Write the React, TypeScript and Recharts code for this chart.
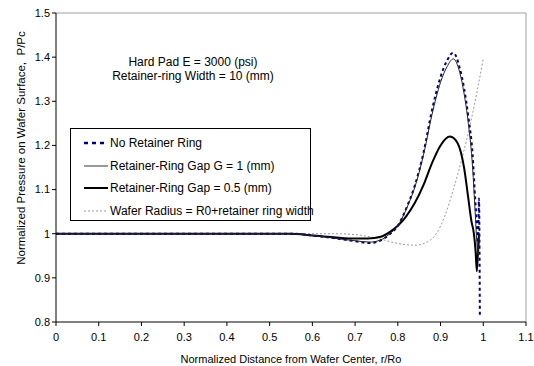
import React from 'react';
import { LineChart, Line, XAxis, YAxis, ReferenceLine, Legend } from 'recharts';

const xTicks = [0, 0.1, 0.2, 0.3, 0.4, 0.5, 0.6, 0.7, 0.8, 0.9, 1, 1.1];
const yTicks = [0.8, 0.9, 1, 1.1, 1.2, 1.3, 1.4, 1.5];

const seriesNames = [
  'No Retainer Ring',
  'Retainer-Ring Gap G = 1 (mm)',
  'Retainer-Ring Gap = 0.5 (mm)',
  'Wafer Radius = R0+retainer ring width',
];

const noRingX = [0, 0.55, 0.6, 0.65, 0.7, 0.735, 0.76, 0.78, 0.8, 0.82, 0.84, 0.86, 0.88, 0.9, 0.915, 0.93, 0.945, 0.955, 0.965, 0.975, 0.981, 0.985, 0.988, 0.99, 0.992];
const noRingY = [1, 1, 0.996, 0.99, 0.983, 0.979, 0.985, 0.998, 1.018, 1.058, 1.11, 1.183, 1.28, 1.355, 1.392, 1.41, 1.375, 1.33, 1.265, 1.18, 1.08, 1.02, 0.98, 1.08, 0.81];

const gap1X = [0, 0.55, 0.6, 0.65, 0.7, 0.735, 0.76, 0.78, 0.8, 0.82, 0.84, 0.86, 0.88, 0.9, 0.915, 0.93, 0.945, 0.955, 0.965, 0.975, 0.981, 0.985, 0.988, 0.991];
const gap1Y = [1, 1, 0.996, 0.99, 0.984, 0.981, 0.986, 0.999, 1.018, 1.056, 1.106, 1.178, 1.27, 1.343, 1.378, 1.396, 1.365, 1.318, 1.25, 1.15, 1.05, 0.98, 0.95, 1.0];

const gapHalfX = [0, 0.55, 0.6, 0.65, 0.7, 0.73, 0.76, 0.78, 0.8, 0.82, 0.84, 0.86, 0.88, 0.9, 0.922, 0.94, 0.955, 0.965, 0.972, 0.978, 0.982, 0.985, 0.988, 0.99];
const gapHalfY = [1, 1, 0.996, 0.992, 0.989, 0.989, 0.993, 1.003, 1.018, 1.04, 1.07, 1.11, 1.16, 1.2, 1.22, 1.205, 1.15, 1.08, 1.03, 1.0, 0.96, 0.915, 0.97, 1.0];

const wideX = [0, 0.55, 0.65, 0.7, 0.75, 0.8, 0.84, 0.87, 0.89, 0.91, 0.93, 0.95, 0.97, 0.985, 1.0];
const wideY = [1, 1, 1.0, 0.998, 0.99, 0.978, 0.974, 0.982, 1.0, 1.04, 1.1, 1.17, 1.25, 1.32, 1.396];

const toPoints = (xs: number[], ys: number[]) => xs.map((x, i) => ({ x, y: ys[i] }));

const noRing = toPoints(noRingX, noRingY);
const gap1 = toPoints(gap1X, gap1Y);
const gapHalf = toPoints(gapHalfX, gapHalfY);
const wide = toPoints(wideX, wideY);

const FONT = '"Liberation Sans", Arial, sans-serif';

const legendItems = [
  { name: seriesNames[0], stroke: '#000080', width: 2.5, dash: '4 4' },
  { name: seriesNames[1], stroke: '#333333', width: 1, dash: undefined },
  { name: seriesNames[2], stroke: '#000000', width: 2, dash: undefined },
  { name: seriesNames[3], stroke: '#999999', width: 1, dash: '2 2' },
];

const LegendBox = () => (
  <div
    style={{
      width: 241,
      height: 93,
      border: '1px solid #000',
      background: '#fff',
      fontFamily: FONT,
      fontSize: 12,
      color: '#000',
      boxSizing: 'border-box',
      paddingTop: 3,
      textAlign: 'left',
    }}
  >
    {legendItems.map((it) => (
      <div key={it.name} style={{ display: 'flex', alignItems: 'center', height: 22.5 }}>
        <svg width={39} height={10} style={{ flex: 'none' }}>
          <line x1={13} y1={5} x2={37} y2={5} stroke={it.stroke} strokeWidth={it.width} strokeDasharray={it.dash} />
        </svg>
        <span style={{ whiteSpace: 'nowrap' }}>{it.name}</span>
      </div>
    ))}
  </div>
);

export default function App() {
  return (
    <div style={{ position: 'absolute', left: 0, top: 0, width: 534, height: 366, background: '#fff' }}>
      <LineChart width={534} height={366} margin={{ top: 13, right: 8, bottom: 0, left: 0 }}>
        <XAxis
          dataKey="x"
          type="number"
          domain={[0, 1.1]}
          ticks={xTicks}
          allowDataOverflow
          height={44}
          stroke="#000"
          tickSize={4}
          tick={{ fill: '#000', fontSize: 11, fontFamily: FONT }}
          tickMargin={7}
          label={{ value: 'Normalized Distance from Wafer Center, r/Ro', position: 'insideBottom', offset: 3, fill: '#000', fontSize: 11, fontFamily: FONT }}
        />
        <YAxis
          dataKey="y"
          type="number"
          domain={[0.8, 1.5]}
          ticks={yTicks}
          allowDataOverflow
          width={56}
          stroke="#000"
          tickSize={4}
          tick={{ fill: '#000', fontSize: 11, fontFamily: FONT }}
          tickMargin={2}
        />
        <ReferenceLine y={1.5} stroke="#a0a0a0" strokeWidth={1} />
        <ReferenceLine x={1.1} stroke="#a0a0a0" strokeWidth={1} />
        <Legend
          verticalAlign="middle"
          align="center"
          layout="horizontal"
          content={() => <LegendBox />}
          wrapperStyle={{ position: 'absolute', left: 70, top: 128, width: 241, height: 93 }}
        />
        <Line data={wide} dataKey="y" name={seriesNames[3]} type="monotone" stroke="#999999" strokeWidth={1} strokeDasharray="2 2" dot={false} isAnimationActive={false} />
        <Line data={gapHalf} dataKey="y" name={seriesNames[2]} type="monotone" stroke="#000000" strokeWidth={2} dot={false} isAnimationActive={false} />
        <Line data={noRing} dataKey="y" name={seriesNames[0]} type="monotone" stroke="#000080" strokeWidth={2} strokeDasharray="3 3" dot={false} isAnimationActive={false} />
        <Line data={gap1} dataKey="y" name={seriesNames[1]} type="monotone" stroke="#222222" strokeWidth={1} dot={false} isAnimationActive={false} />
      </LineChart>
      <div
        style={{
          position: 'absolute',
          left: 93,
          top: 55,
          width: 200,
          textAlign: 'center',
          fontFamily: FONT,
          fontSize: 12,
          lineHeight: '14px',
          color: '#000',
        }}
      >
        <div>Hard Pad E = 3000 (psi)</div>
        <div>Retainer-ring Width = 10 (mm)</div>
      </div>
      <div
        style={{
          position: 'absolute',
          left: 21,
          top: 148,
          transform: 'translate(-50%, -50%) rotate(-90deg)',
          whiteSpace: 'nowrap',
          fontFamily: FONT,
          fontSize: 11.5,
          color: '#000',
        }}
      >
        Normalized Pressure on Wafer Surface,&nbsp; P/Pc
      </div>
    </div>
  );
}
